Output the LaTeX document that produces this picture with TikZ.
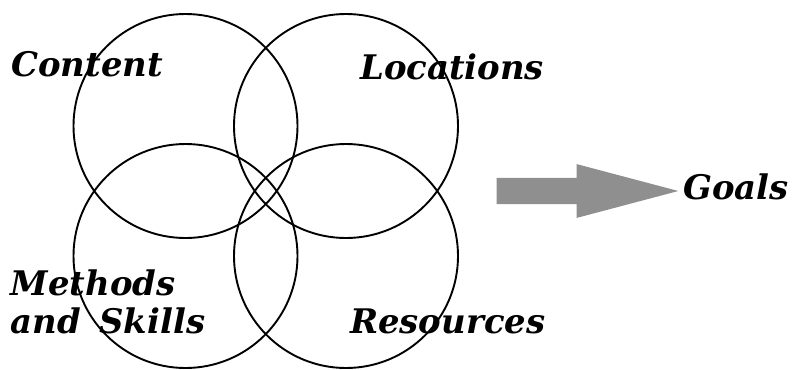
\documentclass[tikz,border=0pt]{standalone}
\usepackage{fontspec}
\newfontfamily\goalfont{DejaVu Serif}
\definecolor{arrowgrey}{RGB}{143,143,143}
\tikzset{ring/.style={circle, draw, line width=1.9bp, minimum size=224bp, inner sep=0pt, outer sep=0pt}}
\tikzset{lbl/.style={inner sep=0pt, font=\goalfont\bfseries\itshape\fontsize{34}{38.3}\selectfont}}
\tikzset{push/.style={fill=arrowgrey}}

\begin{document}
\begin{tikzpicture}[x=1bp, y=-1bp]

    \useasboundingbox (0,0) rectangle (795,369);

    \node[ring] (content)   at (185.5,126) {};
    \node[ring] (locations) at (346,126)   {};
    \node[ring] (methods)   at (185.5,256) {};
    \node[ring] (resources) at (346,256)   {};

    \node[lbl, anchor=base west] (contentlbl)   at (11,76.7)   {Content};
    \node[lbl, anchor=base west] (locationslbl) at (360,79.3) {Locations};
    \node[lbl, anchor=base west, align=left] (methodslbl) at (10.5,333.3) {Methods\\and\hspace{0.2em} Skills};
    \node[lbl, anchor=base west] (resourceslbl) at (350,333.3) {Resources};

    % big grey arrow towards the goals
    \coordinate (tail) at (496.7,191);
    \coordinate (tip)  at (678.3,191);
    \fill[push] (tail) ++(0,-13.2) -- ++(80,0) -- ++(0,-13.7) -- (tip)
       -- ++(-101.6,26.9) -- ++(0,-13.7) -- ++(-80,0) -- cycle;
    \node[lbl, anchor=base west] (goals) at (683,199.3) {Goals};

\end{tikzpicture}
\end{document}
